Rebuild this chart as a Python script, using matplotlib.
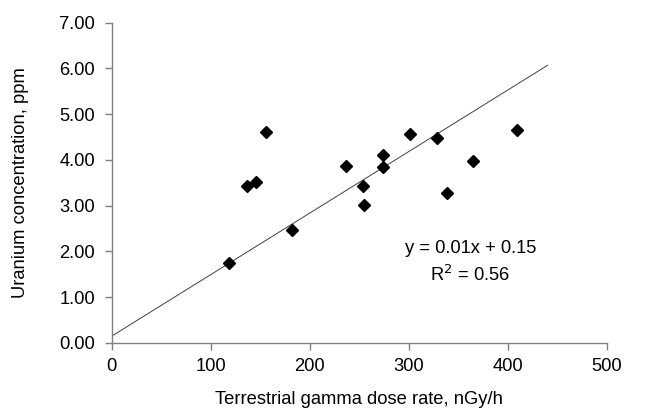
import matplotlib
matplotlib.use('Agg')
import matplotlib.pyplot as plt

# dose rate (nGy/h) vs uranium concentration (ppm)
dose_rate = [118, 137, 146, 156, 182, 237, 254, 255, 274, 274, 301, 328, 338, 365, 409]
uranium = [1.75, 3.44, 3.51, 4.60, 2.48, 3.86, 3.42, 3.01, 4.11, 3.85, 4.57, 4.48, 3.27, 3.97, 4.65]

# linear trendline as drawn in the figure
trend_x = [0, 440]
trend_slope = 0.01345
trend_intercept = 0.15

x_ticks = [0, 100, 200, 300, 400, 500]
y_ticks = [0, 1, 2, 3, 4, 5, 6, 7]

plt.rcParams['font.family'] = ['Liberation Sans', 'DejaVu Sans']
fs = 13.2

fig = plt.figure(figsize=(6.46, 4.12), dpi=100)
ax = fig.add_axes([0.173, 0.1675, 0.7666, 0.7775])

trend_y = [trend_slope * v + trend_intercept for v in trend_x]
ax.plot(trend_x, trend_y, color='#404040', lw=0.7)
ax.plot(dose_rate, uranium, linestyle='none', marker='D', ms=6, color='black')

ax.set_xlim(0, 500)
ax.set_ylim(0, 7)
ax.set_xticks(x_ticks)
ax.set_yticks(y_ticks)
ax.set_yticklabels(['%.2f' % v for v in y_ticks])

for s in ['top', 'right']:
    ax.spines[s].set_visible(False)
for s in ['left', 'bottom']:
    ax.spines[s].set_color('#808080')
    ax.spines[s].set_linewidth(1.0)
ax.tick_params(direction='out', length=5, width=1.0, color='#808080', labelsize=fs)
ax.tick_params(axis='y', pad=7)
ax.tick_params(axis='x', pad=6)

ax.set_xlabel('Terrestrial gamma dose rate, nGy/h', fontsize=fs, labelpad=11)
ax.set_ylabel('Uranium concentration, ppm', fontsize=fs, labelpad=22)

ax.text(362, 2.06, 'y = 0.01x + 0.15', fontsize=fs, ha='center', va='center')
ax.text(362, 1.49, 'R$^2$ = 0.56', fontsize=fs, ha='center', va='center')

fig.savefig('out.png', dpi=100)
